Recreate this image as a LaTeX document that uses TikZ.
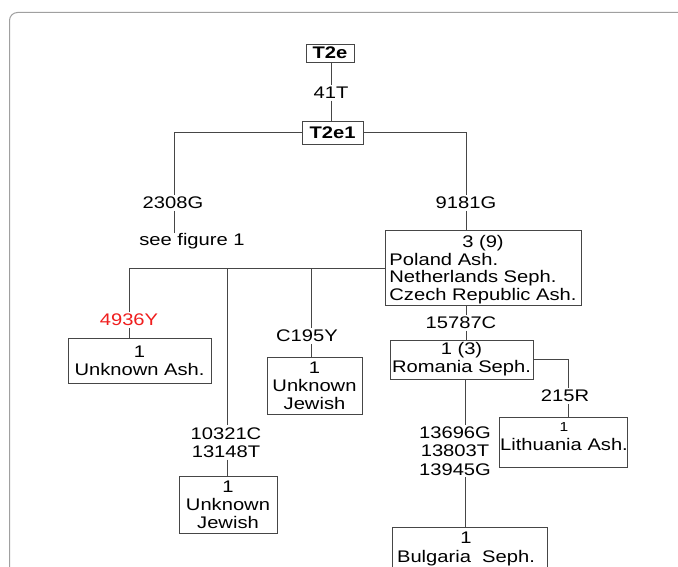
\documentclass[tikz,border=0pt]{standalone}
\usepackage{fontspec}
\setmainfont[FakeStretch=1.2]{Liberation Sans}
\usepackage{xcolor}
\usepackage{tikz}
\usetikzlibrary{positioning}
\definecolor{framegray}{RGB}{160,160,160}
\definecolor{treegray}{RGB}{70,70,70}
\definecolor{mutred}{RGB}{240,30,30}

\begin{document}
\begin{tikzpicture}[x=1pt, y=-1pt, line width=0.8pt,
    hapbox/.style={draw=treegray, rectangle, inner sep=0pt, align=center, font=\fontsize{16.8}{18}\selectfont},
    mut/.style={fill=white, inner sep=1.5pt, align=center, font=\fontsize{16.8}{18.5}\selectfont},
    plaintxt/.style={inner sep=0pt, align=center, font=\fontsize{16.8}{19}\selectfont}]
        \clip (0,0) rectangle (678,567);
        \fill[white] (0,0) rectangle (678,567);

        % Page frame
        \draw[framegray, line width=1pt, rounded corners=8pt] (9.5,12.5) rectangle (720,620);

        % Top of the tree
        \node[hapbox, font=\fontsize{16.8}{18}\selectfont\bfseries, minimum width=48, minimum height=18] (T2e) at (330,53) {T2e};
        \node[mut] (m41T) at (331,93) {41T};
        \node[hapbox, font=\fontsize{16.8}{18}\selectfont\bfseries, minimum width=61, minimum height=23] (T2e1) at (332.5,132.5) {T2e1};
        \draw[treegray] (T2e.south -| m41T) -- (m41T) -- (T2e1.north -| m41T);

        % Left branch
        \coordinate (cl) at (174,132.5);
        \node[mut] (m2308G) at (173,203) {2308G};
        \node[plaintxt] (seefig) at (192,241) {see figure 1};
        \draw[treegray] (T2e1.west) -- (cl) -- (cl |- m2308G.north);
        \draw[treegray] (cl |- m2308G.south) -- (cl |- seefig.north);

        % Right branch
        \coordinate (cr) at (466,132.5);
        \node[mut] (m9181G) at (466,203) {9181G};
        \node[hapbox, minimum width=196, minimum height=72] (pol) at (483,268) {%
            \fontsize{16.8}{17.6}\selectfont
            \begin{tabular}{@{}l@{}}\multicolumn{1}{@{}c@{}}{\rule{0pt}{17.3pt}3 (9)}\\ Poland Ash.\\ Netherlands Seph.\\ Czech Republic Ash.\end{tabular}};
        \draw[treegray] (T2e1.east) -- (cr) -- (m9181G) -- (m9181G |- pol.north);

        % Bar under 3 (9)
        \coordinate (b1) at (129,268);
        \coordinate (b2) at (227,268);
        \coordinate (b3) at (311,268);
        \draw[treegray] (pol.west) -- (b1);

        \node[mut, text=mutred] (m4936Y) at (129,320) {4936Y};
        \node[hapbox, minimum width=143, minimum height=45] (ukash) at (139.5,360.5) {1\\Unknown Ash.};
        \draw[treegray] (b1) -- (m4936Y) -- (ukash.north -| b1);

        \node[mut] (m10321C) at (226,442.5) {10321C\\13148T};
        \node[hapbox, minimum width=98, minimum height=57] (ujlow) at (228,504.5) {1\\Unknown\\Jewish};
        \draw[treegray] (b2) -- (b2 |- m10321C.north);
        \draw[treegray] (b2 |- m10321C.south) -- (b2 |- ujlow.north);

        \node[mut] (mC195Y) at (307,336) {C195Y};
        \node[hapbox, minimum width=95, minimum height=57] (ujmid) at (314.5,385.5) {1\\Unknown\\Jewish};
        \draw[treegray] (b3) -- (b3 |- mC195Y.north);
        \draw[treegray] (b3 |- mC195Y.south) -- (b3 |- ujmid.north);

        % Romania subtree
        \path (pol.south) ++(-17,0) coordinate (pb);
        \node[mut] (m15787C) at (461,323) {15787C};
        \node[hapbox, minimum width=143, minimum height=39] (rom) at (461.5,359.5) {1 (3)\\Romania Seph.};
        \draw[treegray] (pb) -- (pb |- m15787C.north);
        \draw[treegray] (pb |- m15787C.south) -- (pb |- rom.north);

        \node[mut] (m215R) at (565,396) {215R};
        \node[hapbox, minimum width=128, minimum height=50] (lith) at (563,442) {};
        \node[plaintxt] (lithtxt) at (564,436.5) {{\fontsize{13}{14}\selectfont 1}\\Lithuania Ash.};
        \coordinate (lc) at (568,359.5);
        \draw[treegray] (rom.east) -- (lc) -- (lc |- m215R.north);
        \draw[treegray] (lc |- m215R.south) -- (lc |- lith.north);

        \path (rom.south) ++(3.5,0) coordinate (rb);
        \node[mut] (m13696G) at (455,451) {13696G\\13803T\\13945G};
        \node[hapbox, minimum width=155, minimum height=70] (bul) at (469.5,562) {};
        \node[plaintxt] (bultxt) at (466,548.5) {1\\Bulgaria\ \ Seph.};
        \draw[treegray] (rb) -- (rb |- m13696G.north);
        \draw[treegray] (rb |- m13696G.south) -- (rb |- bul.north);
    \end{tikzpicture}
\end{document}
